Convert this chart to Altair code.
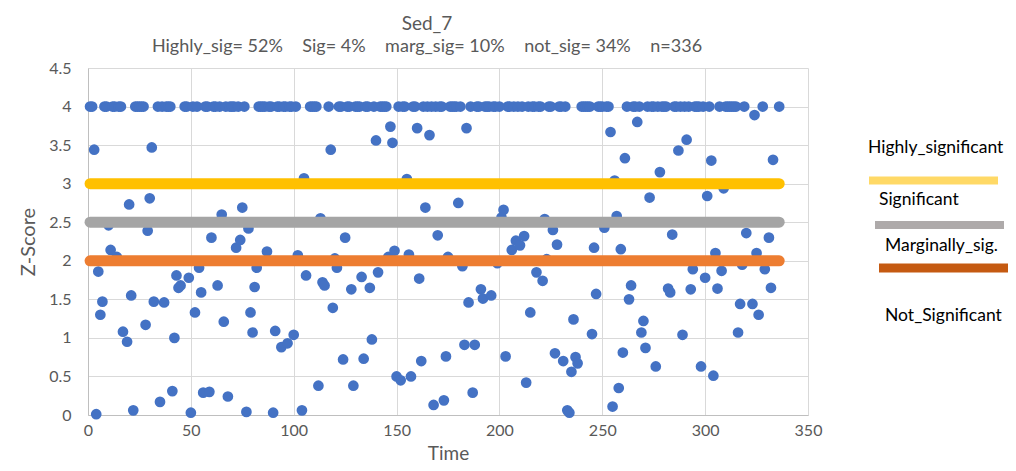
import altair as alt
import pandas as pd

# ---- data ----
# times whose Z-score sits at the cap value 4
capped_time = [1, 2, 8, 9, 12, 13, 15, 16,
               23, 24, 25, 26, 27,
               34, 36, 38, 39, 40,
               47, 48, 51, 53, 57, 58, 61, 62, 64, 67, 69, 70, 71, 73, 76,
               83, 84, 85, 86, 88, 89, 92, 93, 95, 96, 98, 99, 101,
               108, 109, 110, 111,
               117, 122, 123, 126, 127, 130, 131, 132, 135, 136, 139, 142, 143, 144, 145,
               151, 153, 154, 158, 159, 163, 165, 167, 169, 171, 172, 176, 177, 178, 179,
               181, 186, 189, 190, 193, 194, 195, 197, 198, 200, 204, 205, 207, 209, 211,
               214, 216, 217, 219, 220, 224, 225, 229, 230, 232,
               240, 241, 242, 243, 244, 248, 249, 250, 252, 253,
               262, 265, 266, 268, 272, 274, 275, 277, 279, 280, 281, 285, 286, 288, 290,
               292, 295, 296, 297, 299, 302, 307, 310, 311, 312, 313, 314, 315, 319,
               328, 336]
capped_value = 4.0

other_time = [3, 4, 5, 6, 7, 10, 11, 14,
              17, 19, 20, 21, 22,
              28, 29, 30, 31, 32,
              35, 37,
              41, 42, 43, 44, 45,
              49, 50, 52, 54, 55, 56, 59, 60, 63, 65, 66, 68, 72, 74, 75,
              77, 78, 79, 80, 81, 82,
              87, 90, 91, 94, 97, 100,
              102, 104, 105, 106,
              112, 113, 114, 115,
              118, 119, 120, 121, 124, 125, 128, 129, 133, 134, 137, 138, 140, 141,
              146, 147, 148, 149, 150,
              152, 155, 156, 157, 160, 161, 162, 164, 166, 168, 170, 173, 174, 175,
              180, 182, 183, 184, 185, 187, 188, 191, 192, 196, 199, 201, 202, 203,
              206, 208, 210, 212, 213, 215, 218, 221, 222, 223, 226, 227, 228, 231,
              233, 234, 235, 236, 237, 238,
              245, 246, 247, 251,
              254, 255, 256, 257, 258, 259, 260, 261,
              263, 264, 267, 269, 270, 271, 273, 276, 278, 282, 283, 284, 287, 289,
              291, 293, 294, 298, 300, 301, 303, 304, 305, 306, 308, 309, 316, 317, 318,
              320, 323, 324, 325, 326, 329, 331, 332, 333]
other_z = [3.44, 0.01, 1.86, 1.30, 1.47, 2.46, 2.14, 2.05,
           1.08, 0.95, 2.73, 1.55, 0.06,
           1.17, 2.39, 2.81, 3.47, 1.47,
           0.17, 1.46,
           0.31, 1.00, 1.81, 1.65, 1.68,
           1.78, 0.03, 1.33, 1.91, 1.59, 0.29, 0.30, 2.30, 1.68, 2.60, 1.21, 0.24, 2.17, 2.27, 2.69,
           0.04, 2.42, 1.33, 1.07, 1.66, 1.91,
           2.12, 0.03, 1.09, 0.88, 0.93, 1.04,
           2.07, 0.06, 3.07, 1.81,
           0.38, 2.55, 1.72, 1.68,
           3.44, 1.39, 2.03, 1.91, 0.72, 2.30, 1.63, 0.38, 1.79, 0.73, 1.65, 0.98, 3.56, 1.85,
           2.05, 3.74, 3.53, 2.13, 0.50,
           0.45, 3.06, 2.08, 0.50, 3.72, 1.77, 0.70, 2.69, 3.63, 0.13, 2.33, 0.19, 0.76, 2.05,
           2.75, 1.93, 0.91, 3.72, 1.46, 0.29, 0.91, 1.63, 1.51, 1.55, 1.97, 2.56, 2.66, 0.76,
           2.14, 2.26, 2.20, 2.32, 0.42, 1.33, 1.85, 1.74, 2.54, 2.02, 2.40, 0.80, 2.21, 0.70,
           0.06, 0.03, 0.56, 1.24, 0.75, 0.67,
           1.05, 2.17, 1.57, 2.43,
           3.67, 0.11, 3.04, 2.58, 0.35, 2.15, 0.81, 3.33,
           1.50, 1.68, 3.80, 1.07, 1.22, 0.87, 2.82, 0.63, 3.15, 1.64, 1.59, 2.34, 3.43, 1.04,
           3.57, 1.63, 1.89, 0.63, 1.78, 2.84, 3.30, 0.51, 2.10, 1.64, 1.87, 2.94, 1.07, 1.44, 1.95,
           2.36, 1.44, 3.89, 2.10, 1.30, 1.89, 2.30, 1.65, 3.31]

threshold_names = ["Highly_significant", "Significant", "Marginally_sig."]
threshold_levels = [3.0, 2.5, 2.0]
threshold_colors = ["#FFC000", "#A5A5A5", "#ED7D31"]
threshold_start = [1, 1, 1]
threshold_end = [336, 336, 336]

legend_labels = ["Highly_significant", "Significant", "Marginally_sig.", "Not_Significant"]
legend_bar_colors = ["#FFD966", "#AEAAAA", "#C55A11"]

x_ticks = [0, 50, 100, 150, 200, 250, 300, 350]
y_ticks = [0, 0.5, 1, 1.5, 2, 2.5, 3, 3.5, 4, 4.5]

title_text = "Sed_7"
sp = "\u2003\u2004"
subtitle_text = ("Highly_sig= 52%" + sp + "Sig= 4%" + sp + "marg_sig= 10%" + sp +
                 "not_sig= 34%" + sp + "n=336")

FONT = "Lato"
GREY = "#595959"

# ---- tables ----
points = pd.DataFrame({
    "time": capped_time + other_time,
    "z": [capped_value] * len(capped_time) + other_z,
})
lines = pd.DataFrame({
    "name": threshold_names,
    "z": threshold_levels,
    "time": threshold_start,
    "end": threshold_end,
})

x_enc = alt.X("time:Q", scale=alt.Scale(domain=[0, 350], nice=False),
              axis=alt.Axis(values=x_ticks, title="Time", labelPadding=7, titlePadding=6,
                            labelFlush=False, titleFontSize=19))
y_enc = alt.Y("z:Q", scale=alt.Scale(domain=[0, 4.5], nice=False),
              axis=alt.Axis(values=y_ticks, format="~g", title="Z-Score",
                            labelPadding=17, titlePadding=10, labelFlush=False))

scatter = alt.Chart(points).mark_circle(size=115, color="#4472C4", opacity=1).encode(
    x=x_enc, y=y_enc)

rules = alt.Chart(lines).mark_rule(strokeWidth=11, strokeCap="round").encode(
    x=x_enc, x2="end:Q", y=y_enc,
    color=alt.Color("name:N", scale=alt.Scale(domain=threshold_names, range=threshold_colors),
                    legend=None))

# ---- hand-drawn legend at the right (as in the source sheet) ----
legend_layers = []
text_pos = [(780, 80), (791, 132), (797, 178), (797, 248)]
for lab, (px, py) in zip(legend_labels, text_pos):
    legend_layers.append(
        alt.Chart(pd.DataFrame({"label": [lab]})).mark_text(
            x=px, y=py, align="left", baseline="middle", font=FONT, fontSize=17.5, color="#000000"
        ).encode(text="label:N"))
bar_pos = [(781, 910, 112.5, 8), (787, 916, 157, 8), (791, 920, 200, 9)]
for col, (xa, xb, yy, w) in zip(legend_bar_colors, bar_pos):
    legend_layers.append(
        alt.Chart(pd.DataFrame({"c": [col]})).mark_rule(strokeWidth=w, color=col).encode(
            x=alt.value(xa), x2=alt.value(xb), y=alt.value(yy)))

chart = alt.layer(scatter, rules, *legend_layers).properties(
    width=720, height=347,
    autosize=alt.AutoSizeParams(type="none"),
    padding={"left": 80, "top": 60, "right": 200, "bottom": 48},
    title=alt.TitleParams(text=title_text, subtitle=subtitle_text, anchor="middle",
                          font=FONT, subtitleFont=FONT, fontSize=19, subtitleFontSize=18,
                          fontWeight="normal", color=GREY, subtitleColor=GREY,
                          offset=4, dx=-21, subtitlePadding=4),
).configure_view(strokeWidth=0).configure_axis(
    domainColor="#BFBFBF", gridColor="#D9D9D9", ticks=False,
    labelFont=FONT, labelFontSize=16, labelColor=GREY,
    titleFont=FONT, titleFontSize=20, titleFontWeight="normal", titleColor=GREY,
)

chart.save("out.html", embed_options={"renderer": "svg", "actions": False})
